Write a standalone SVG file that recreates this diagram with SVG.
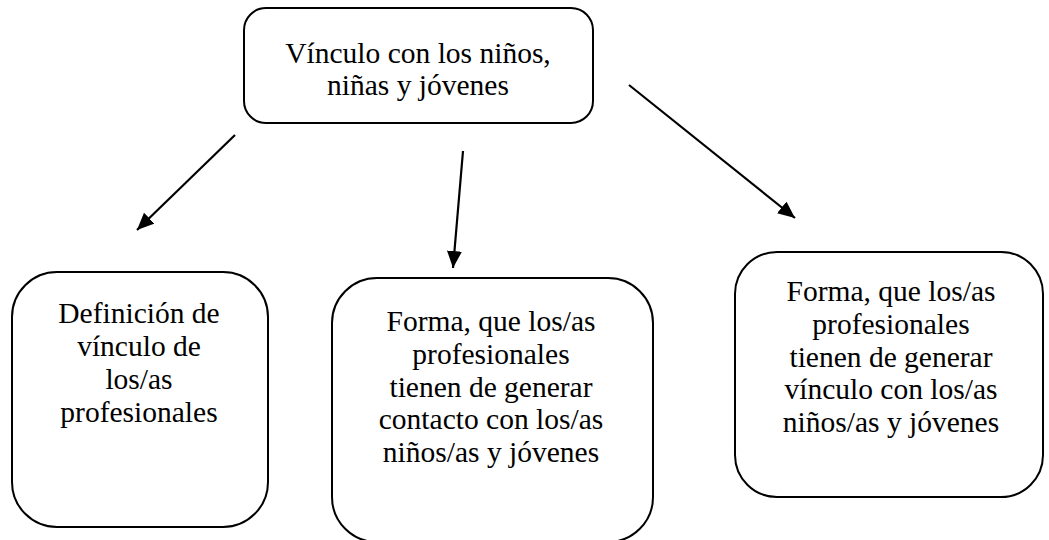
<svg xmlns="http://www.w3.org/2000/svg" width="1049" height="540" viewBox="0 0 1049 540">
<defs>
<style>
.box{fill:#fff;stroke:#000;stroke-width:2}
.t{font-family:"Liberation Serif","Times New Roman",serif;font-size:29.5px;fill:#000;text-anchor:middle}
.c{stroke:#000;stroke-width:2.2;fill:none}
</style>
<marker id="ah" markerUnits="userSpaceOnUse" markerWidth="19" markerHeight="16" refX="17" refY="7.5" orient="auto">
<path d="M0,0 L17,7.5 L0,15 Z" fill="#000"/>
</marker>
</defs>
<rect width="1049" height="540" fill="#fff"/>
<g id="connectors">
<line class="c" x1="235" y1="135" x2="137" y2="230" marker-end="url(#ah)"/>
<line class="c" x1="463" y1="151" x2="453" y2="268" marker-end="url(#ah)"/>
<line class="c" x1="629" y1="85" x2="795" y2="218" marker-end="url(#ah)"/>
</g>
<g id="node-top">
<rect class="box" x="244" y="8" width="349" height="115" rx="22" ry="22"/>
<text class="t" x="418" y="62.6">Vínculo con los niños,<tspan x="418" dy="32.8">niñas y jóvenes</tspan></text>
</g>
<g id="node-left">
<rect class="box" x="12" y="272" width="256" height="255" rx="45" ry="45"/>
<text class="t" x="139" y="323.3">Definición de<tspan x="139" dy="32.8">vínculo de</tspan><tspan x="139" dy="32.8">los/as</tspan><tspan x="139" dy="32.8">profesionales</tspan></text>
</g>
<g id="node-middle">
<rect class="box" x="332" y="278" width="321" height="264" rx="45" ry="45"/>
<text class="t" x="491" y="330.9">Forma, que los/as<tspan x="491" dy="32.8">profesionales</tspan><tspan x="491" dy="32.8">tienen de generar</tspan><tspan x="491" dy="32.8">contacto con los/as</tspan><tspan x="491" dy="32.8">niños/as y jóvenes</tspan></text>
</g>
<g id="node-right">
<rect class="box" x="735" y="252" width="308" height="245" rx="42" ry="42"/>
<text class="t" x="891" y="300.9">Forma, que los/as<tspan x="891" dy="32.8">profesionales</tspan><tspan x="891" dy="32.8">tienen de generar</tspan><tspan x="891" dy="32.8">vínculo con los/as</tspan><tspan x="891" dy="32.8">niños/as y jóvenes</tspan></text>
</g>
</svg>
